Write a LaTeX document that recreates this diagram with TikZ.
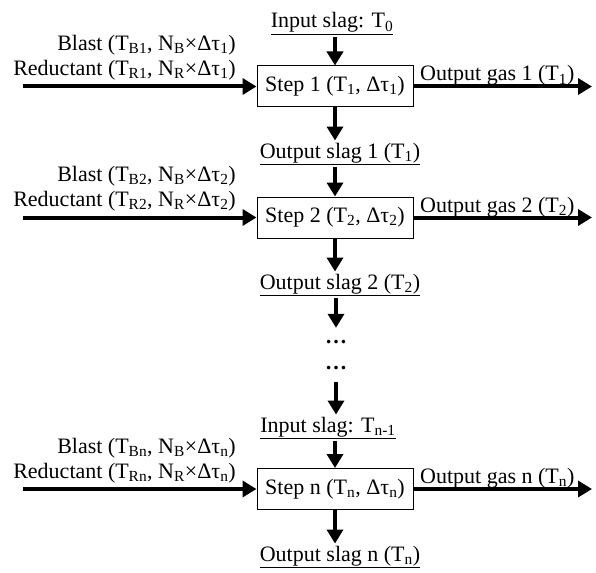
\documentclass[tikz,border=0pt]{standalone}
\usepackage{fontspec}
\setmainfont{Liberation Serif}
\usetikzlibrary{arrows.meta}
\begin{document}
\begin{tikzpicture}[x=1pt,y=-1pt,
  every node/.style={font=\fontsize{22}{26}\selectfont},
  stepbox/.style={draw, line width=1pt, minimum width=156pt, minimum height=41pt, inner sep=0pt},
  lbl/.style={inner sep=0pt},
  slag/.style={inner sep=2pt},
  dotsnode/.style={inner sep=0pt, minimum height=28pt},
  flow/.style={line width=4pt, -{Triangle[length=14pt,width=16pt]}},
]
\useasboundingbox (0,0) rectangle (596,572);

% step 1
\node[slag, anchor=base] (in0) at (332,28) {\underline{Input slag: T\textsubscript{0}}};
\node[stepbox] (s1) at (335,86.5) {Step 1 (T\textsubscript{1}, Δτ\textsubscript{1})};
\node[lbl, anchor=base east] (b1) at (236,50.5) {Blast (T\textsubscript{B1}, N\textsubscript{B}×Δτ\textsubscript{1})};
\node[lbl, anchor=base east] (r1) at (236,75.5) {Reductant (T\textsubscript{R1}, N\textsubscript{R}×Δτ\textsubscript{1})};
\node[lbl, anchor=base west] (g1) at (420,81) {Output gas 1 (T\textsubscript{1})};
\coordinate (l1) at (23,86.5);
\coordinate (e1) at (592,86.5);
\node[slag, anchor=base] (o1) at (340,158) {\underline{Output slag 1 (T\textsubscript{1})}};

% step 2
\node[stepbox] (s2) at (335,217.5) {Step 2 (T\textsubscript{2}, Δτ\textsubscript{2})};
\node[lbl, anchor=base east] (b2) at (236,181.5) {Blast (T\textsubscript{B2}, N\textsubscript{B}×Δτ\textsubscript{2})};
\node[lbl, anchor=base east] (r2) at (236,206.5) {Reductant (T\textsubscript{R2}, N\textsubscript{R}×Δτ\textsubscript{2})};
\node[lbl, anchor=base west] (g2) at (420,212) {Output gas 2 (T\textsubscript{2})};
\coordinate (l2) at (23,217.5);
\coordinate (e2) at (592,217.5);
\node[slag, anchor=base] (o2) at (340,289) {\underline{Output slag 2 (T\textsubscript{2})}};

% dots
\node[dotsnode] (d1) at (336,342) {\textbf{…}};
\node[dotsnode] (d2) at (336,368) {\textbf{…}};

% step n
\node[slag, anchor=base] (tn1) at (328,432) {\underline{Input slag: T\textsubscript{n-1}}};
\node[stepbox] (sn) at (335,489) {Step n (T\textsubscript{n}, Δτ\textsubscript{n})};
\node[lbl, anchor=base east] (bn) at (236,453) {Blast (T\textsubscript{Bn}, N\textsubscript{B}×Δτ\textsubscript{n})};
\node[lbl, anchor=base east] (rn) at (236,478) {Reductant (T\textsubscript{Rn}, N\textsubscript{R}×Δτ\textsubscript{n})};
\node[lbl, anchor=base west] (gn) at (420,483) {Output gas n (T\textsubscript{n})};
\coordinate (ln) at (23,489);
\coordinate (en) at (592,489);
\node[slag, anchor=base] (on) at (340,561) {\underline{Output slag n (T\textsubscript{n})}};

% horizontal flows
\draw[flow] (l1) -- (s1.west);
\draw[flow] (s1.east) -- (e1);
\draw[flow] (l2) -- (s2.west);
\draw[flow] (s2.east) -- (e2);
\draw[flow] (ln) -- (sn.west);
\draw[flow] (sn.east) -- (en);

% vertical flows
\draw[flow] (in0.south -| s1) -- (s1.north);
\draw[flow] (s1.south) -- (o1.north -| s1);
\draw[flow] (o1.south -| s2) -- (s2.north);
\draw[flow] (s2.south) -- (o2.north -| s2);
\draw[flow] (o2.south -| d1) -- (d1.north);
\draw[flow] (d2.south) -- (tn1.north -| d2);
\draw[flow] (tn1.south -| sn) -- (sn.north);
\draw[flow] (sn.south) -- (on.north -| sn);
\end{tikzpicture}
\end{document}
